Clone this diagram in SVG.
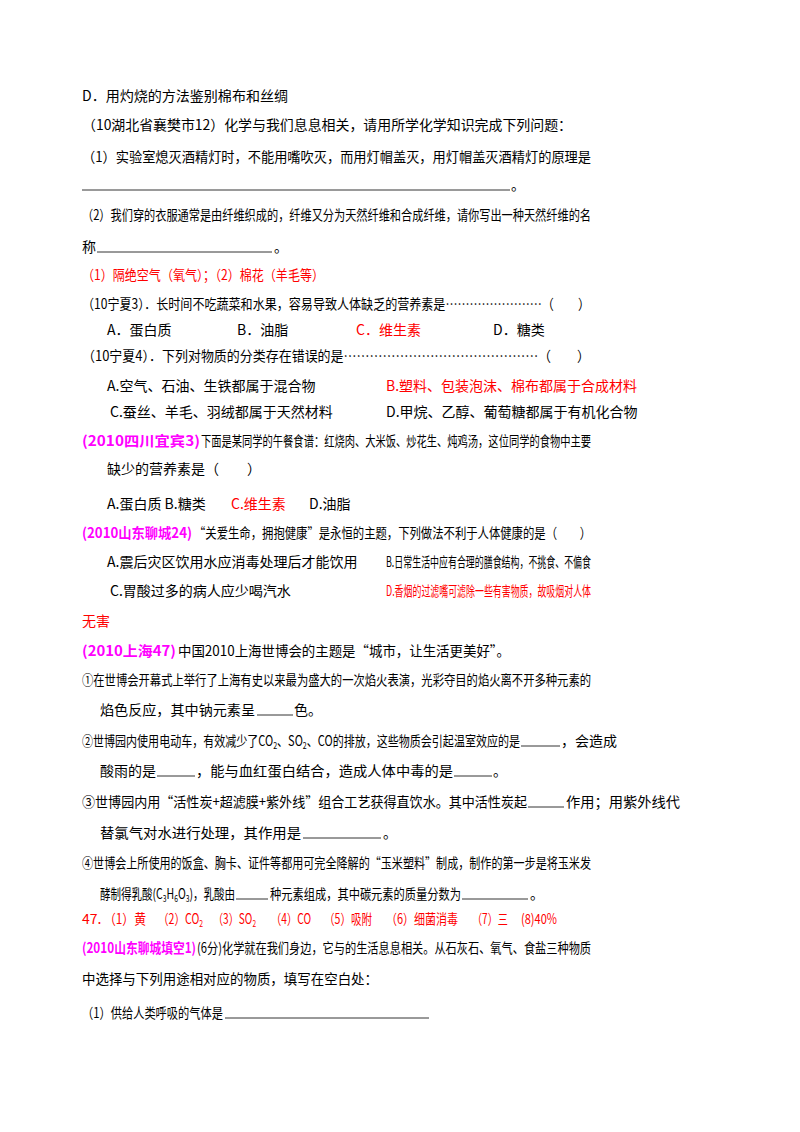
<svg xmlns="http://www.w3.org/2000/svg" width="800" height="1132" viewBox="0 0 800 1132">
<style>
text{font-family:"Noto Sans CJK SC","Liberation Serif",serif;font-size:14px;fill:#000}
.r{fill:#ff0000}
.p{fill:#ff00ff;font-weight:bold}
line{stroke:#000;stroke-width:0.8}
</style>
<rect width="800" height="1132" fill="#fff"/>
<text x="82" y="101" textLength="206" lengthAdjust="spacingAndGlyphs">D．用灼烧的方法鉴别棉布和丝绸</text>
<text x="82" y="130" textLength="490" lengthAdjust="spacingAndGlyphs">（10湖北省襄樊市12）化学与我们息息相关，请用所学化学知识完成下列问题：</text>
<text x="82" y="162" textLength="509" lengthAdjust="spacingAndGlyphs">（1）实验室熄灭酒精灯时，不能用嘴吹灭，而用灯帽盖灭，用灯帽盖灭酒精灯的原理是</text>
<line x1="82" y1="190" x2="510" y2="190"/><text x="511" y="190">。</text>
<text x="82" y="220" textLength="509" lengthAdjust="spacingAndGlyphs">（2）我们穿的衣服通常是由纤维织成的，纤维又分为天然纤维和合成纤维，请你写出一种天然纤维的名</text>
<text x="82" y="252">称</text><line x1="97" y1="252" x2="272" y2="252"/><text x="274" y="252">。</text>
<text x="82" y="280" class="r" textLength="242" lengthAdjust="spacingAndGlyphs">（1）隔绝空气（氧气）；（2）棉花（羊毛等）</text>
<text x="82" y="309" textLength="508" lengthAdjust="spacingAndGlyphs">（10宁夏3）．长时间不吃蔬菜和水果，容易导致人体缺乏的营养素是……………………（　　）</text>
<text x="107" y="335">A．蛋白质</text><text x="237" y="335">B．油脂</text><text x="356" y="335" class="r">C．维生素</text><text x="493" y="335">D．糖类</text>
<text x="82" y="361" textLength="508" lengthAdjust="spacingAndGlyphs">（10宁夏4）．下列对物质的分类存在错误的是………………………………………（　　）</text>
<text x="107" y="391">A.空气、石油、生铁都属于混合物</text><text x="386" y="391" class="r">B.塑料、包装泡沫、棉布都属于合成材料</text>
<text x="110" y="417">C.蚕丝、羊毛、羽绒都属于天然材料</text><text x="386" y="417">D.甲烷、乙醇、葡萄糖都属于有机化合物</text>
<text x="82" y="446" class="p" textLength="118" lengthAdjust="spacingAndGlyphs">(2010四川宜宾3)</text><text x="201" y="446" textLength="390" lengthAdjust="spacingAndGlyphs">下面是某同学的午餐食谱：红烧肉、大米饭、炒花生、炖鸡汤，这位同学的食物中主要</text>
<text x="107" y="474">缺少的营养素是（　　）</text>
<text x="107" y="509">A.蛋白质  B.糖类</text><text x="231" y="509" class="r">C.维生素</text><text x="309" y="509">D.油脂</text>
<text x="82" y="538" class="p" textLength="110" lengthAdjust="spacingAndGlyphs">(2010山东聊城24)</text><text x="194" y="538" textLength="397" lengthAdjust="spacingAndGlyphs">“关爱生命，拥抱健康”是永恒的主题，下列做法不利于人体健康的是（　　）</text>
<text x="107" y="567">A.震后灾区饮用水应消毒处理后才能饮用</text><text x="386" y="567" textLength="205" lengthAdjust="spacingAndGlyphs">B.日常生活中应有合理的膳食结构，不挑食、不偏食</text>
<text x="110" y="596">C.胃酸过多的病人应少喝汽水</text><text x="386" y="596" class="r" textLength="205" lengthAdjust="spacingAndGlyphs">D.香烟的过滤嘴可滤除一些有害物质，故吸烟对人体</text>
<text x="82" y="626" class="r">无害</text>
<text x="82" y="656" class="p" textLength="94" lengthAdjust="spacingAndGlyphs">(2010上海47)</text><text x="178" y="656" textLength="332" lengthAdjust="spacingAndGlyphs">中国2010上海世博会的主题是“城市，让生活更美好”。</text>
<text x="82" y="685" textLength="509" lengthAdjust="spacingAndGlyphs">①在世博会开幕式上举行了上海有史以来最为盛大的一次焰火表演，光彩夺目的焰火离不开多种元素的</text>
<text x="100" y="715" textLength="155" lengthAdjust="spacingAndGlyphs">焰色反应，其中钠元素呈</text><line x1="257" y1="715" x2="293" y2="715"/><text x="294" y="715">色。</text>
<text x="82" y="746" textLength="438" lengthAdjust="spacingAndGlyphs">②世博园内使用电动车，有效减少了CO<tspan font-size="9" dy="3">2</tspan><tspan dy="-3">、SO</tspan><tspan font-size="9" dy="3">2</tspan><tspan dy="-3">、CO的排放，这些物质会引起温室效应的是</tspan></text>
<line x1="521" y1="746" x2="560" y2="746"/><text x="561" y="746" textLength="56" lengthAdjust="spacingAndGlyphs">，会造成</text>
<text x="100" y="776">酸雨的是</text><line x1="157" y1="776" x2="195" y2="776"/><text x="196" y="776" textLength="257" lengthAdjust="spacingAndGlyphs">，能与血红蛋白结合，造成人体中毒的是</text><line x1="454" y1="776" x2="492" y2="776"/><text x="493" y="776">。</text>
<text x="82" y="807" textLength="445" lengthAdjust="spacingAndGlyphs">③世博园内用“活性炭+超滤膜+紫外线”组合工艺获得直饮水。其中活性炭起</text><line x1="528" y1="807" x2="564" y2="807"/><text x="566" y="807" textLength="114" lengthAdjust="spacingAndGlyphs">作用；用紫外线代</text>
<text x="100" y="838" textLength="201" lengthAdjust="spacingAndGlyphs">替氯气对水进行处理，其作用是</text><line x1="303" y1="838" x2="381" y2="838"/><text x="383" y="838">。</text>
<text x="82" y="868" textLength="509" lengthAdjust="spacingAndGlyphs">④世博会上所使用的饭盒、胸卡、证件等都用可完全降解的“玉米塑料”制成，制作的第一步是将玉米发</text>
<text x="100" y="899" textLength="135" lengthAdjust="spacingAndGlyphs">酵制得乳酸(C<tspan font-size="9" dy="3">3</tspan><tspan dy="-3">H</tspan><tspan font-size="9" dy="3">6</tspan><tspan dy="-3">O</tspan><tspan font-size="9" dy="3">3</tspan><tspan dy="-3">)，乳酸由</tspan></text>
<line x1="236" y1="899" x2="268" y2="899"/><text x="270" y="899" textLength="191" lengthAdjust="spacingAndGlyphs">种元素组成，其中碳元素的质量分数为</text><line x1="462" y1="899" x2="528" y2="899"/><text x="530" y="899">。</text>
<g>
<text x="82" y="924" class="r">47.</text>
<text x="104" y="924" class="r" textLength="42" lengthAdjust="spacingAndGlyphs">（1）黄</text>
<text x="158" y="924" class="r" textLength="45" lengthAdjust="spacingAndGlyphs">（2）CO<tspan font-size="9" dy="3">2</tspan></text>
<text x="213" y="924" class="r" textLength="43" lengthAdjust="spacingAndGlyphs">（3）SO<tspan font-size="9" dy="3">2</tspan></text>
<text x="271" y="924" class="r" textLength="40" lengthAdjust="spacingAndGlyphs">（4）CO</text>
<text x="324" y="924" class="r" textLength="48" lengthAdjust="spacingAndGlyphs">（5）吸附</text>
<text x="386" y="924" class="r" textLength="72" lengthAdjust="spacingAndGlyphs">（6）细菌消毒</text>
<text x="472" y="924" class="r" textLength="36" lengthAdjust="spacingAndGlyphs">（7）三</text>
<text x="521" y="924" class="r" textLength="36" lengthAdjust="spacingAndGlyphs">(8)40%</text>
</g>
<text x="82" y="953" class="p" textLength="114" lengthAdjust="spacingAndGlyphs">(2010山东聊城填空1)</text><text x="197" y="953" textLength="394" lengthAdjust="spacingAndGlyphs">(6分)化学就在我们身边，它与的生活息息相关。从石灰石、氧气、食盐三种物质</text>
<text x="82" y="984" textLength="296" lengthAdjust="spacingAndGlyphs">中选择与下列用途相对应的物质，填写在空白处：</text>
<text x="82" y="1018" textLength="141" lengthAdjust="spacingAndGlyphs">（1）供给人类呼吸的气体是</text><line x1="225" y1="1018" x2="429" y2="1018"/>
</svg>
